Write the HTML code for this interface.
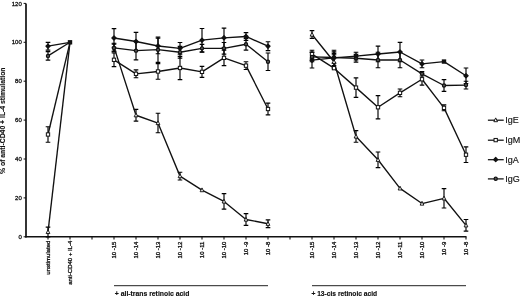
<!DOCTYPE html>
<html><head><meta charset="utf-8"><title>chart</title>
<style>
html,body{margin:0;padding:0;background:#fff;}
body{width:520px;height:297px;position:relative;overflow:hidden;font-family:"Liberation Sans",sans-serif;}
text{font-family:"Liberation Sans",sans-serif;fill:#111;}
.tk{font-size:6px;stroke:#111;stroke-width:0.3px;}
.xl{font-size:6px;stroke:#111;stroke-width:0.3px;}
.gl{font-size:6.4px;font-weight:bold;stroke:#111;stroke-width:0.15px;}
.yl{font-size:7px;font-weight:bold;stroke:#111;stroke-width:0.12px;}
.lg{font-size:9px;stroke:#111;stroke-width:0.15px;}
</style></head><body>
<svg width="520" height="297" viewBox="0 0 520 297" style="position:absolute;left:0;top:0">
<path d="M26 3.4 V237.40" stroke="#111" stroke-width="1.7" fill="none"/>
<path d="M25.2 236.80 H466.5" stroke="#111" stroke-width="1.4" fill="none"/>
<path d="M23.6 236.80 H26" stroke="#111" stroke-width="1"/>
<text x="21.8" y="238.90" text-anchor="end" class="tk">0</text>
<path d="M23.6 197.90 H26" stroke="#111" stroke-width="1"/>
<text x="21.8" y="200.00" text-anchor="end" class="tk">20</text>
<path d="M23.6 159.00 H26" stroke="#111" stroke-width="1"/>
<text x="21.8" y="161.10" text-anchor="end" class="tk">40</text>
<path d="M23.6 120.10 H26" stroke="#111" stroke-width="1"/>
<text x="21.8" y="122.20" text-anchor="end" class="tk">60</text>
<path d="M23.6 81.20 H26" stroke="#111" stroke-width="1"/>
<text x="21.8" y="83.30" text-anchor="end" class="tk">80</text>
<path d="M23.6 42.30 H26" stroke="#111" stroke-width="1"/>
<text x="21.8" y="44.40" text-anchor="end" class="tk">100</text>
<path d="M23.6 3.40 H26" stroke="#111" stroke-width="1"/>
<text x="21.8" y="5.50" text-anchor="end" class="tk">120</text>
<path d="M48.00 236.80 V239.60" stroke="#111" stroke-width="1.1"/>
<path d="M70.00 236.80 V239.60" stroke="#111" stroke-width="1.1"/>
<path d="M92.00 236.80 V239.60" stroke="#111" stroke-width="1.1"/>
<path d="M114.00 236.80 V239.60" stroke="#111" stroke-width="1.1"/>
<path d="M136.00 236.80 V239.60" stroke="#111" stroke-width="1.1"/>
<path d="M158.00 236.80 V239.60" stroke="#111" stroke-width="1.1"/>
<path d="M180.00 236.80 V239.60" stroke="#111" stroke-width="1.1"/>
<path d="M202.00 236.80 V239.60" stroke="#111" stroke-width="1.1"/>
<path d="M224.00 236.80 V239.60" stroke="#111" stroke-width="1.1"/>
<path d="M246.00 236.80 V239.60" stroke="#111" stroke-width="1.1"/>
<path d="M268.00 236.80 V239.60" stroke="#111" stroke-width="1.1"/>
<path d="M290.00 236.80 V239.60" stroke="#111" stroke-width="1.1"/>
<path d="M312.00 236.80 V239.60" stroke="#111" stroke-width="1.1"/>
<path d="M334.00 236.80 V239.60" stroke="#111" stroke-width="1.1"/>
<path d="M356.00 236.80 V239.60" stroke="#111" stroke-width="1.1"/>
<path d="M378.00 236.80 V239.60" stroke="#111" stroke-width="1.1"/>
<path d="M400.00 236.80 V239.60" stroke="#111" stroke-width="1.1"/>
<path d="M422.00 236.80 V239.60" stroke="#111" stroke-width="1.1"/>
<path d="M444.00 236.80 V239.60" stroke="#111" stroke-width="1.1"/>
<path d="M466.00 236.80 V239.60" stroke="#111" stroke-width="1.1"/>
<text transform="translate(50.40 240.60) rotate(-90)" text-anchor="end" class="xl">unstimulated</text>
<text transform="translate(72.40 240.60) rotate(-90)" text-anchor="end" class="xl">anti-CD40 + IL-4</text>
<text transform="translate(116.40 241.60) rotate(-90)" text-anchor="end" class="xl">10 -15</text>
<text transform="translate(314.40 241.60) rotate(-90)" text-anchor="end" class="xl">10 -15</text>
<text transform="translate(138.40 241.60) rotate(-90)" text-anchor="end" class="xl">10 -14</text>
<text transform="translate(336.40 241.60) rotate(-90)" text-anchor="end" class="xl">10 -14</text>
<text transform="translate(160.40 241.60) rotate(-90)" text-anchor="end" class="xl">10 -13</text>
<text transform="translate(358.40 241.60) rotate(-90)" text-anchor="end" class="xl">10 -13</text>
<text transform="translate(182.40 241.60) rotate(-90)" text-anchor="end" class="xl">10 -12</text>
<text transform="translate(380.40 241.60) rotate(-90)" text-anchor="end" class="xl">10 -12</text>
<text transform="translate(204.40 241.60) rotate(-90)" text-anchor="end" class="xl">10 -11</text>
<text transform="translate(402.40 241.60) rotate(-90)" text-anchor="end" class="xl">10 -11</text>
<text transform="translate(226.40 241.60) rotate(-90)" text-anchor="end" class="xl">10 -10</text>
<text transform="translate(424.40 241.60) rotate(-90)" text-anchor="end" class="xl">10 -10</text>
<text transform="translate(248.40 241.60) rotate(-90)" text-anchor="end" class="xl">10 -9</text>
<text transform="translate(446.40 241.60) rotate(-90)" text-anchor="end" class="xl">10 -9</text>
<text transform="translate(270.40 241.60) rotate(-90)" text-anchor="end" class="xl">10 -8</text>
<text transform="translate(468.40 241.60) rotate(-90)" text-anchor="end" class="xl">10 -8</text>
<path d="M48.00 227.08 V236.80 M45.70 227.08 h4.6 M45.70 236.80 h4.6" fill="none" stroke="#000" stroke-width="1.15"/>
<path d="M114.00 43.27 V51.05 M111.70 43.27 h4.6 M111.70 51.05 h4.6" fill="none" stroke="#000" stroke-width="1.15"/>
<path d="M136.00 109.40 V121.07 M133.70 109.40 h4.6 M133.70 121.07 h4.6" fill="none" stroke="#000" stroke-width="1.15"/>
<path d="M158.00 113.29 V132.74 M155.70 113.29 h4.6 M155.70 132.74 h4.6" fill="none" stroke="#000" stroke-width="1.15"/>
<path d="M180.00 172.23 V180.01 M177.70 172.23 h4.6 M177.70 180.01 h4.6" fill="none" stroke="#000" stroke-width="1.15"/>
<path d="M224.00 193.62 V209.18 M221.70 193.62 h4.6 M221.70 209.18 h4.6" fill="none" stroke="#000" stroke-width="1.15"/>
<path d="M246.00 213.65 V225.32 M243.70 213.65 h4.6 M243.70 225.32 h4.6" fill="none" stroke="#000" stroke-width="1.15"/>
<path d="M268.00 219.88 V227.66 M265.70 219.88 h4.6 M265.70 227.66 h4.6" fill="none" stroke="#000" stroke-width="1.15"/>
<path d="M312.00 30.63 V38.41 M309.70 30.63 h4.6 M309.70 38.41 h4.6" fill="none" stroke="#000" stroke-width="1.15"/>
<path d="M334.00 54.75 V68.75 M331.70 54.75 h4.6 M331.70 68.75 h4.6" fill="none" stroke="#000" stroke-width="1.15"/>
<path d="M356.00 130.60 V142.27 M353.70 130.60 h4.6 M353.70 142.27 h4.6" fill="none" stroke="#000" stroke-width="1.15"/>
<path d="M378.00 152.00 V167.56 M375.70 152.00 h4.6 M375.70 167.56 h4.6" fill="none" stroke="#000" stroke-width="1.15"/>
<path d="M444.00 188.56 V208.01 M441.70 188.56 h4.6 M441.70 208.01 h4.6" fill="none" stroke="#000" stroke-width="1.15"/>
<path d="M466.00 219.49 V231.16 M463.70 219.49 h4.6 M463.70 231.16 h4.6" fill="none" stroke="#000" stroke-width="1.15"/>
<path d="M48.00 126.71 V142.27 M45.70 126.71 h4.6 M45.70 142.27 h4.6" fill="none" stroke="#000" stroke-width="1.15"/>
<path d="M114.00 53.00 V66.61 M111.70 53.00 h4.6 M111.70 66.61 h4.6" fill="none" stroke="#000" stroke-width="1.15"/>
<path d="M136.00 69.92 V77.70 M133.70 69.92 h4.6 M133.70 77.70 h4.6" fill="none" stroke="#000" stroke-width="1.15"/>
<path d="M158.00 63.69 V79.25 M155.70 63.69 h4.6 M155.70 79.25 h4.6" fill="none" stroke="#000" stroke-width="1.15"/>
<path d="M180.00 56.30 V79.64 M177.70 56.30 h4.6 M177.70 79.64 h4.6" fill="none" stroke="#000" stroke-width="1.15"/>
<path d="M202.00 66.42 V77.31 M199.70 66.42 h4.6 M199.70 77.31 h4.6" fill="none" stroke="#000" stroke-width="1.15"/>
<path d="M224.00 50.08 V65.64 M221.70 50.08 h4.6 M221.70 65.64 h4.6" fill="none" stroke="#000" stroke-width="1.15"/>
<path d="M246.00 61.75 V69.53 M243.70 61.75 h4.6 M243.70 69.53 h4.6" fill="none" stroke="#000" stroke-width="1.15"/>
<path d="M268.00 103.18 V114.85 M265.70 103.18 h4.6 M265.70 114.85 h4.6" fill="none" stroke="#000" stroke-width="1.15"/>
<path d="M312.00 50.27 V58.05 M309.70 50.27 h4.6 M309.70 58.05 h4.6" fill="none" stroke="#000" stroke-width="1.15"/>
<path d="M356.00 77.89 V97.34 M353.70 77.89 h4.6 M353.70 97.34 h4.6" fill="none" stroke="#000" stroke-width="1.15"/>
<path d="M378.00 95.59 V118.93 M375.70 95.59 h4.6 M375.70 118.93 h4.6" fill="none" stroke="#000" stroke-width="1.15"/>
<path d="M400.00 88.98 V96.76 M397.70 88.98 h4.6 M397.70 96.76 h4.6" fill="none" stroke="#000" stroke-width="1.15"/>
<path d="M422.00 73.42 V85.09 M419.70 73.42 h4.6 M419.70 85.09 h4.6" fill="none" stroke="#000" stroke-width="1.15"/>
<path d="M444.00 104.93 V110.76 M441.70 104.93 h4.6 M441.70 110.76 h4.6" fill="none" stroke="#000" stroke-width="1.15"/>
<path d="M466.00 146.94 V162.50 M463.70 146.94 h4.6 M463.70 162.50 h4.6" fill="none" stroke="#000" stroke-width="1.15"/>
<path d="M48.00 51.64 V60.19 M45.70 51.64 h4.6 M45.70 60.19 h4.6" fill="none" stroke="#000" stroke-width="1.15"/>
<path d="M114.00 44.05 V51.83 M111.70 44.05 h4.6 M111.70 51.83 h4.6" fill="none" stroke="#000" stroke-width="1.15"/>
<path d="M136.00 41.52 V59.81 M133.70 41.52 h4.6 M133.70 59.81 h4.6" fill="none" stroke="#000" stroke-width="1.15"/>
<path d="M158.00 37.05 V62.33 M155.70 37.05 h4.6 M155.70 62.33 h4.6" fill="none" stroke="#000" stroke-width="1.15"/>
<path d="M180.00 46.38 V58.05 M177.70 46.38 h4.6 M177.70 58.05 h4.6" fill="none" stroke="#000" stroke-width="1.15"/>
<path d="M202.00 44.44 V52.22 M199.70 44.44 h4.6 M199.70 52.22 h4.6" fill="none" stroke="#000" stroke-width="1.15"/>
<path d="M224.00 42.49 V54.16 M221.70 42.49 h4.6 M221.70 54.16 h4.6" fill="none" stroke="#000" stroke-width="1.15"/>
<path d="M246.00 38.41 V50.08 M243.70 38.41 h4.6 M243.70 50.08 h4.6" fill="none" stroke="#000" stroke-width="1.15"/>
<path d="M268.00 53.00 V70.50 M265.70 53.00 h4.6 M265.70 70.50 h4.6" fill="none" stroke="#000" stroke-width="1.15"/>
<path d="M312.00 52.03 V61.75 M309.70 52.03 h4.6 M309.70 61.75 h4.6" fill="none" stroke="#000" stroke-width="1.15"/>
<path d="M334.00 51.83 V63.11 M331.70 51.83 h4.6 M331.70 63.11 h4.6" fill="none" stroke="#000" stroke-width="1.15"/>
<path d="M356.00 54.36 V62.14 M353.70 54.36 h4.6 M353.70 62.14 h4.6" fill="none" stroke="#000" stroke-width="1.15"/>
<path d="M378.00 52.22 V67.78 M375.70 52.22 h4.6 M375.70 67.78 h4.6" fill="none" stroke="#000" stroke-width="1.15"/>
<path d="M400.00 52.22 V67.78 M397.70 52.22 h4.6 M397.70 67.78 h4.6" fill="none" stroke="#000" stroke-width="1.15"/>
<path d="M422.00 71.67 V75.95 M419.70 71.67 h4.6 M419.70 75.95 h4.6" fill="none" stroke="#000" stroke-width="1.15"/>
<path d="M444.00 79.64 V91.31 M441.70 79.64 h4.6 M441.70 91.31 h4.6" fill="none" stroke="#000" stroke-width="1.15"/>
<path d="M466.00 81.20 V88.98 M463.70 81.20 h4.6 M463.70 88.98 h4.6" fill="none" stroke="#000" stroke-width="1.15"/>
<path d="M48.00 42.30 V50.08 M45.70 42.30 h4.6 M45.70 50.08 h4.6" fill="none" stroke="#000" stroke-width="1.15"/>
<path d="M114.00 28.69 V47.36 M111.70 28.69 h4.6 M111.70 47.36 h4.6" fill="none" stroke="#000" stroke-width="1.15"/>
<path d="M136.00 32.38 V50.66 M133.70 32.38 h4.6 M133.70 50.66 h4.6" fill="none" stroke="#000" stroke-width="1.15"/>
<path d="M158.00 38.22 V53.78 M155.70 38.22 h4.6 M155.70 53.78 h4.6" fill="none" stroke="#000" stroke-width="1.15"/>
<path d="M180.00 42.49 V54.16 M177.70 42.49 h4.6 M177.70 54.16 h4.6" fill="none" stroke="#000" stroke-width="1.15"/>
<path d="M202.00 28.49 V51.83 M199.70 28.49 h4.6 M199.70 51.83 h4.6" fill="none" stroke="#000" stroke-width="1.15"/>
<path d="M224.00 28.10 V47.55 M221.70 28.10 h4.6 M221.70 47.55 h4.6" fill="none" stroke="#000" stroke-width="1.15"/>
<path d="M246.00 32.58 V40.36 M243.70 32.58 h4.6 M243.70 40.36 h4.6" fill="none" stroke="#000" stroke-width="1.15"/>
<path d="M268.00 41.72 V50.66 M265.70 41.72 h4.6 M265.70 50.66 h4.6" fill="none" stroke="#000" stroke-width="1.15"/>
<path d="M312.00 52.41 V67.97 M309.70 52.41 h4.6 M309.70 67.97 h4.6" fill="none" stroke="#000" stroke-width="1.15"/>
<path d="M334.00 50.27 V65.45 M331.70 50.27 h4.6 M331.70 65.45 h4.6" fill="none" stroke="#000" stroke-width="1.15"/>
<path d="M356.00 52.22 V60.00 M353.70 52.22 h4.6 M353.70 60.00 h4.6" fill="none" stroke="#000" stroke-width="1.15"/>
<path d="M378.00 46.19 V61.75 M375.70 46.19 h4.6 M375.70 61.75 h4.6" fill="none" stroke="#000" stroke-width="1.15"/>
<path d="M400.00 42.30 V61.75 M397.70 42.30 h4.6 M397.70 61.75 h4.6" fill="none" stroke="#000" stroke-width="1.15"/>
<path d="M422.00 60.00 V67.78 M419.70 60.00 h4.6 M419.70 67.78 h4.6" fill="none" stroke="#000" stroke-width="1.15"/>
<path d="M466.00 67.97 V83.53 M463.70 67.97 h4.6 M463.70 83.53 h4.6" fill="none" stroke="#000" stroke-width="1.15"/>
<path d="M331.70 53.39 h4.6" stroke="#000" stroke-width="1.15"/>
<path d="M48.00 231.94 L70.00 42.30" fill="none" stroke="#111" stroke-width="1.35" stroke-linejoin="round"/>
<path d="M114.00 47.16 L136.00 115.24 L158.00 123.02 L180.00 176.12 L202.00 190.12 L224.00 201.40 L246.00 219.49 L268.00 223.77" fill="none" stroke="#111" stroke-width="1.35" stroke-linejoin="round"/>
<path d="M312.00 34.52 L334.00 61.75 L356.00 136.44 L378.00 159.78 L400.00 188.37 L422.00 203.54 L444.00 198.29 L466.00 225.32" fill="none" stroke="#111" stroke-width="1.35" stroke-linejoin="round"/>
<path d="M48.00 134.49 L70.00 42.30" fill="none" stroke="#111" stroke-width="1.35" stroke-linejoin="round"/>
<path d="M114.00 59.81 L136.00 73.81 L158.00 71.47 L180.00 67.97 L202.00 71.86 L224.00 57.86 L246.00 65.64 L268.00 109.01" fill="none" stroke="#111" stroke-width="1.35" stroke-linejoin="round"/>
<path d="M312.00 54.16 L334.00 68.17 L356.00 87.62 L378.00 107.26 L400.00 92.87 L422.00 79.25 L444.00 107.85 L466.00 154.72" fill="none" stroke="#111" stroke-width="1.35" stroke-linejoin="round"/>
<path d="M48.00 55.91 L70.00 42.30" fill="none" stroke="#111" stroke-width="1.35" stroke-linejoin="round"/>
<path d="M114.00 47.94 L136.00 50.66 L158.00 49.69 L180.00 52.22 L202.00 48.33 L224.00 48.33 L246.00 44.25 L268.00 61.75" fill="none" stroke="#111" stroke-width="1.35" stroke-linejoin="round"/>
<path d="M312.00 56.89 L334.00 57.47 L356.00 58.25 L378.00 60.00 L400.00 60.00 L422.00 73.81 L444.00 85.48 L466.00 85.09" fill="none" stroke="#111" stroke-width="1.35" stroke-linejoin="round"/>
<path d="M48.00 46.19 L70.00 42.30" fill="none" stroke="#111" stroke-width="1.35" stroke-linejoin="round"/>
<path d="M114.00 38.02 L136.00 41.52 L158.00 46.00 L180.00 48.33 L202.00 40.16 L224.00 37.83 L246.00 36.47 L268.00 46.19" fill="none" stroke="#111" stroke-width="1.35" stroke-linejoin="round"/>
<path d="M312.00 60.19 L334.00 57.86 L356.00 56.11 L378.00 53.97 L400.00 52.03 L422.00 63.89 L444.00 61.56 L466.00 75.75" fill="none" stroke="#111" stroke-width="1.35" stroke-linejoin="round"/>
<path d="M48.00 229.74 L49.85 233.54 L46.15 233.54 Z" fill="#fff" stroke="#111" stroke-width="0.95"/>
<path d="M114.00 44.96 L115.85 48.76 L112.15 48.76 Z" fill="#fff" stroke="#111" stroke-width="0.95"/>
<path d="M136.00 113.04 L137.85 116.84 L134.15 116.84 Z" fill="#fff" stroke="#111" stroke-width="0.95"/>
<path d="M158.00 120.82 L159.85 124.62 L156.15 124.62 Z" fill="#fff" stroke="#111" stroke-width="0.95"/>
<path d="M180.00 173.92 L181.85 177.72 L178.15 177.72 Z" fill="#fff" stroke="#111" stroke-width="0.95"/>
<path d="M202.00 187.92 L203.85 191.72 L200.15 191.72 Z" fill="#fff" stroke="#111" stroke-width="0.95"/>
<path d="M224.00 199.20 L225.85 203.00 L222.15 203.00 Z" fill="#fff" stroke="#111" stroke-width="0.95"/>
<path d="M246.00 217.29 L247.85 221.09 L244.15 221.09 Z" fill="#fff" stroke="#111" stroke-width="0.95"/>
<path d="M268.00 221.57 L269.85 225.37 L266.15 225.37 Z" fill="#fff" stroke="#111" stroke-width="0.95"/>
<path d="M312.00 32.32 L313.85 36.12 L310.15 36.12 Z" fill="#fff" stroke="#111" stroke-width="0.95"/>
<path d="M334.00 59.55 L335.85 63.35 L332.15 63.35 Z" fill="#fff" stroke="#111" stroke-width="0.95"/>
<path d="M356.00 134.24 L357.85 138.04 L354.15 138.04 Z" fill="#fff" stroke="#111" stroke-width="0.95"/>
<path d="M378.00 157.58 L379.85 161.38 L376.15 161.38 Z" fill="#fff" stroke="#111" stroke-width="0.95"/>
<path d="M400.00 186.17 L401.85 189.97 L398.15 189.97 Z" fill="#fff" stroke="#111" stroke-width="0.95"/>
<path d="M422.00 201.34 L423.85 205.14 L420.15 205.14 Z" fill="#fff" stroke="#111" stroke-width="0.95"/>
<path d="M444.00 196.09 L445.85 199.89 L442.15 199.89 Z" fill="#fff" stroke="#111" stroke-width="0.95"/>
<path d="M466.00 223.12 L467.85 226.92 L464.15 226.92 Z" fill="#fff" stroke="#111" stroke-width="0.95"/>
<rect x="46.35" y="132.84" width="3.3" height="3.3" fill="#fff" stroke="#111" stroke-width="1"/>
<rect x="112.35" y="58.16" width="3.3" height="3.3" fill="#fff" stroke="#111" stroke-width="1"/>
<rect x="134.35" y="72.16" width="3.3" height="3.3" fill="#fff" stroke="#111" stroke-width="1"/>
<rect x="156.35" y="69.82" width="3.3" height="3.3" fill="#fff" stroke="#111" stroke-width="1"/>
<rect x="178.35" y="66.32" width="3.3" height="3.3" fill="#fff" stroke="#111" stroke-width="1"/>
<rect x="200.35" y="70.21" width="3.3" height="3.3" fill="#fff" stroke="#111" stroke-width="1"/>
<rect x="222.35" y="56.21" width="3.3" height="3.3" fill="#fff" stroke="#111" stroke-width="1"/>
<rect x="244.35" y="63.99" width="3.3" height="3.3" fill="#fff" stroke="#111" stroke-width="1"/>
<rect x="266.35" y="107.36" width="3.3" height="3.3" fill="#fff" stroke="#111" stroke-width="1"/>
<rect x="310.35" y="52.51" width="3.3" height="3.3" fill="#fff" stroke="#111" stroke-width="1"/>
<rect x="332.35" y="66.52" width="3.3" height="3.3" fill="#fff" stroke="#111" stroke-width="1"/>
<rect x="354.35" y="85.97" width="3.3" height="3.3" fill="#fff" stroke="#111" stroke-width="1"/>
<rect x="376.35" y="105.61" width="3.3" height="3.3" fill="#fff" stroke="#111" stroke-width="1"/>
<rect x="398.35" y="91.22" width="3.3" height="3.3" fill="#fff" stroke="#111" stroke-width="1"/>
<rect x="420.35" y="77.60" width="3.3" height="3.3" fill="#fff" stroke="#111" stroke-width="1"/>
<rect x="442.35" y="106.20" width="3.3" height="3.3" fill="#fff" stroke="#111" stroke-width="1"/>
<rect x="464.35" y="153.07" width="3.3" height="3.3" fill="#fff" stroke="#111" stroke-width="1"/>
<circle cx="48.00" cy="55.91" r="1.6" fill="#5a5a5a" stroke="#111" stroke-width="1.2"/>
<circle cx="114.00" cy="47.94" r="1.6" fill="#5a5a5a" stroke="#111" stroke-width="1.2"/>
<circle cx="136.00" cy="50.66" r="1.6" fill="#5a5a5a" stroke="#111" stroke-width="1.2"/>
<circle cx="158.00" cy="49.69" r="1.6" fill="#5a5a5a" stroke="#111" stroke-width="1.2"/>
<circle cx="180.00" cy="52.22" r="1.6" fill="#5a5a5a" stroke="#111" stroke-width="1.2"/>
<circle cx="202.00" cy="48.33" r="1.6" fill="#5a5a5a" stroke="#111" stroke-width="1.2"/>
<circle cx="224.00" cy="48.33" r="1.6" fill="#5a5a5a" stroke="#111" stroke-width="1.2"/>
<circle cx="246.00" cy="44.25" r="1.6" fill="#5a5a5a" stroke="#111" stroke-width="1.2"/>
<circle cx="268.00" cy="61.75" r="1.6" fill="#5a5a5a" stroke="#111" stroke-width="1.2"/>
<circle cx="312.00" cy="56.89" r="1.6" fill="#5a5a5a" stroke="#111" stroke-width="1.2"/>
<circle cx="334.00" cy="57.47" r="1.6" fill="#5a5a5a" stroke="#111" stroke-width="1.2"/>
<circle cx="356.00" cy="58.25" r="1.6" fill="#5a5a5a" stroke="#111" stroke-width="1.2"/>
<circle cx="378.00" cy="60.00" r="1.6" fill="#5a5a5a" stroke="#111" stroke-width="1.2"/>
<circle cx="400.00" cy="60.00" r="1.6" fill="#5a5a5a" stroke="#111" stroke-width="1.2"/>
<circle cx="422.00" cy="73.81" r="1.6" fill="#5a5a5a" stroke="#111" stroke-width="1.2"/>
<circle cx="444.00" cy="85.48" r="1.6" fill="#5a5a5a" stroke="#111" stroke-width="1.2"/>
<circle cx="466.00" cy="85.09" r="1.6" fill="#5a5a5a" stroke="#111" stroke-width="1.2"/>
<path d="M48.00 44.09 L50.10 46.19 L48.00 48.29 L45.90 46.19 Z" fill="#111" stroke="#111" stroke-width="1.2" stroke-linejoin="round"/>
<rect x="67.80" y="40.10" width="4.4" height="4.4" fill="#111"/>
<path d="M114.00 35.92 L116.10 38.02 L114.00 40.12 L111.90 38.02 Z" fill="#111" stroke="#111" stroke-width="1.2" stroke-linejoin="round"/>
<path d="M136.00 39.42 L138.10 41.52 L136.00 43.62 L133.90 41.52 Z" fill="#111" stroke="#111" stroke-width="1.2" stroke-linejoin="round"/>
<path d="M158.00 43.90 L160.10 46.00 L158.00 48.10 L155.90 46.00 Z" fill="#111" stroke="#111" stroke-width="1.2" stroke-linejoin="round"/>
<path d="M180.00 46.23 L182.10 48.33 L180.00 50.43 L177.90 48.33 Z" fill="#111" stroke="#111" stroke-width="1.2" stroke-linejoin="round"/>
<path d="M202.00 38.06 L204.10 40.16 L202.00 42.26 L199.90 40.16 Z" fill="#111" stroke="#111" stroke-width="1.2" stroke-linejoin="round"/>
<path d="M224.00 35.73 L226.10 37.83 L224.00 39.93 L221.90 37.83 Z" fill="#111" stroke="#111" stroke-width="1.2" stroke-linejoin="round"/>
<path d="M246.00 34.37 L248.10 36.47 L246.00 38.57 L243.90 36.47 Z" fill="#111" stroke="#111" stroke-width="1.2" stroke-linejoin="round"/>
<path d="M268.00 44.09 L270.10 46.19 L268.00 48.29 L265.90 46.19 Z" fill="#111" stroke="#111" stroke-width="1.2" stroke-linejoin="round"/>
<path d="M312.00 58.09 L314.10 60.19 L312.00 62.29 L309.90 60.19 Z" fill="#111" stroke="#111" stroke-width="1.2" stroke-linejoin="round"/>
<path d="M334.00 55.76 L336.10 57.86 L334.00 59.96 L331.90 57.86 Z" fill="#111" stroke="#111" stroke-width="1.2" stroke-linejoin="round"/>
<path d="M356.00 54.01 L358.10 56.11 L356.00 58.21 L353.90 56.11 Z" fill="#111" stroke="#111" stroke-width="1.2" stroke-linejoin="round"/>
<path d="M378.00 51.87 L380.10 53.97 L378.00 56.07 L375.90 53.97 Z" fill="#111" stroke="#111" stroke-width="1.2" stroke-linejoin="round"/>
<path d="M400.00 49.93 L402.10 52.03 L400.00 54.13 L397.90 52.03 Z" fill="#111" stroke="#111" stroke-width="1.2" stroke-linejoin="round"/>
<path d="M422.00 61.79 L424.10 63.89 L422.00 65.99 L419.90 63.89 Z" fill="#111" stroke="#111" stroke-width="1.2" stroke-linejoin="round"/>
<rect x="441.80" y="59.36" width="4.4" height="4.4" fill="#111"/>
<path d="M466.00 73.65 L468.10 75.75 L466.00 77.85 L463.90 75.75 Z" fill="#111" stroke="#111" stroke-width="1.2" stroke-linejoin="round"/>
<path d="M114 285.7 H268" stroke="#222" stroke-width="1"/>
<path d="M312 285.7 H466" stroke="#222" stroke-width="1"/>
<text x="114.8" y="296.2" textLength="74.6" lengthAdjust="spacingAndGlyphs" class="gl">+ all-trans retinoic acid</text>
<text x="311.4" y="296.2" textLength="65.8" lengthAdjust="spacingAndGlyphs" class="gl">+ 13-cis retinoic acid</text>
<text transform="translate(5.4 174) rotate(-90)" textLength="106.5" lengthAdjust="spacingAndGlyphs" class="yl">% of anti-CD40 + IL-4 stimulation</text>
<path d="M487.9 120.20 H503.7" stroke="#111" stroke-width="1.25"/>
<path d="M495.70 117.90 L497.55 121.70 L493.85 121.70 Z" fill="#fff" stroke="#111" stroke-width="0.95"/>
<text x="505.2" y="123.00" class="lg">IgE</text>
<path d="M487.9 140.20 H503.7" stroke="#111" stroke-width="1.25"/>
<rect x="494.05" y="138.45" width="3.3" height="3.3" fill="#fff" stroke="#111" stroke-width="1"/>
<text x="505.2" y="143.00" class="lg">IgM</text>
<path d="M487.9 159.70 H503.7" stroke="#111" stroke-width="1.25"/>
<path d="M495.70 157.50 L497.80 159.60 L495.70 161.70 L493.60 159.60 Z" fill="#111" stroke="#111" stroke-width="1.2" stroke-linejoin="round"/>
<text x="505.2" y="162.50" class="lg">IgA</text>
<path d="M487.9 178.90 H503.7" stroke="#111" stroke-width="1.25"/>
<circle cx="495.70" cy="178.80" r="1.6" fill="#5a5a5a" stroke="#111" stroke-width="1.2"/>
<text x="505.2" y="181.70" class="lg">IgG</text>
</svg>
</body></html>
